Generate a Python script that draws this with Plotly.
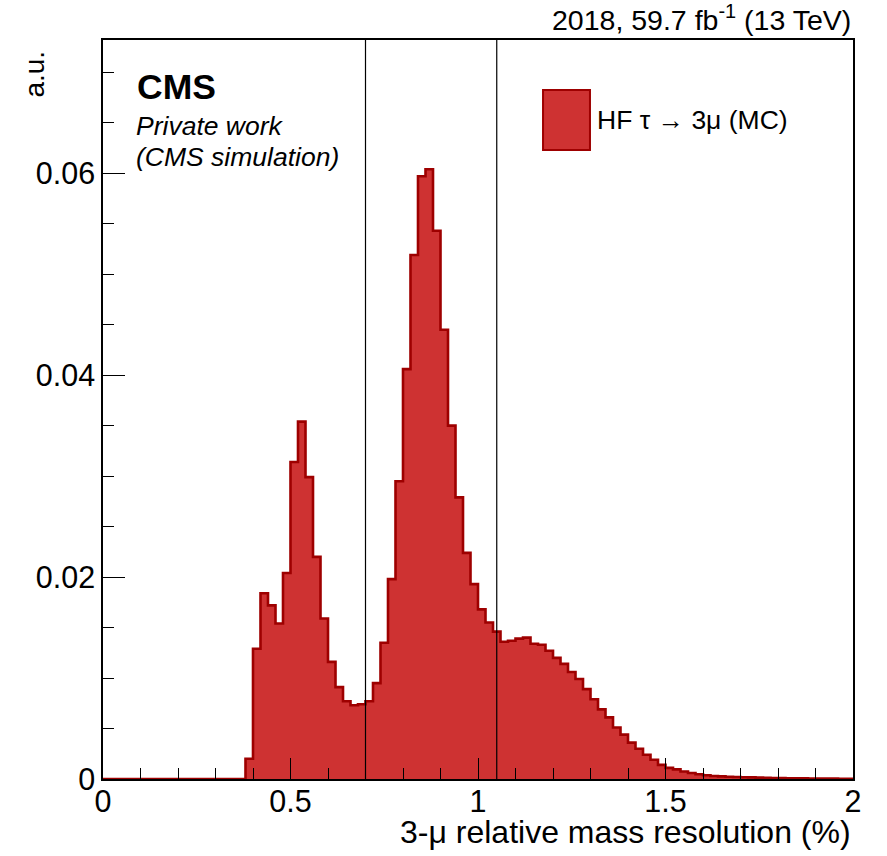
import numpy as np
import plotly.graph_objects as go

# ---- data ----
bin_width = 0.02
bin_edges = np.round(np.arange(0, 2.0 + 1e-9, bin_width), 2).tolist()
values = [
    0, 0, 0, 0, 0, 0, 0, 0, 0, 0,
    0, 0, 0, 0, 0, 0, 0, 0, 0,
    0.0020,  # 0.38
    0.0129, 0.0184, 0.0172, 0.0154, 0.0204, 0.0314, 0.0354, 0.0299, 0.0220, 0.0159,  # 0.40-0.58
    0.0116, 0.0091, 0.0077, 0.0073, 0.0074, 0.0077, 0.0095, 0.0135, 0.0198, 0.0295,  # 0.60-0.78
    0.0406, 0.0519, 0.0597, 0.0604, 0.0543, 0.0445, 0.0350, 0.0279, 0.0224, 0.0193,  # 0.80-0.98
    0.0168, 0.0155, 0.0146, 0.0136, 0.0137, 0.0139, 0.0140, 0.0134, 0.0133, 0.0127,  # 1.00-1.18
    0.0120, 0.0114, 0.0106, 0.0099, 0.0089, 0.0079, 0.0069, 0.0061, 0.0051, 0.0044,  # 1.20-1.38
    0.0036, 0.0030, 0.0024, 0.0019, 0.0014, 0.0011, 0.00095, 0.00075, 0.0006, 0.00047,  # 1.40-1.58
    0.00037, 0.0003, 0.00026, 0.00022, 0.0002, 0.00018, 0.00016, 0.00014, 0.00012, 0.0001,  # 1.60-1.78
    0.00009, 0.00008, 0.00007, 0.00006, 0.00005, 0.00005, 0.00004, 0.00004, 0.00003, 0.00003,  # 1.80-1.98
]
cut_lines = [0.7, 1.05]
legend_label = "HF τ → 3μ (MC)"
x_title = "3-μ relative mass resolution (%)"
y_title = "a.u."
lumi_text = "2018, 59.7 fb<sup>-1</sup> (13 TeV)"

fill_color = "rgb(206,50,50)"
line_color = "rgb(158,0,0)"
font_family = "Liberation Sans, Arial, Helvetica, sans-serif"

centers = [round(e + bin_width / 2, 3) for e in bin_edges[:-1]]
step_x = bin_edges
step_y = values + [values[-1]]

fig = go.Figure()
fig.add_trace(go.Bar(
    x=centers, y=values, width=bin_width,
    marker=dict(color=fill_color, line=dict(width=0)),
    name=legend_label, showlegend=False, hoverinfo="skip",
))
fig.add_trace(go.Scatter(
    x=step_x, y=step_y, mode="lines", line=dict(shape="hv", color=line_color, width=2.6),
    showlegend=False, hoverinfo="skip",
))

for xc in cut_lines:
    fig.add_shape(type="line", xref="x", yref="paper", x0=xc, x1=xc, y0=0, y1=1,
                  line=dict(color="black", width=1.2))

# legend box (ROOT-style)
fig.add_shape(type="rect", xref="paper", yref="paper",
              x0=0.5867, x1=0.6493, y0=0.8512, y1=0.9323,
              fillcolor=fill_color, line=dict(color=line_color, width=2))
fig.add_annotation(xref="paper", yref="paper", x=0.656, y=0.8917, text=legend_label,
                   showarrow=False, xanchor="left", yanchor="middle",
                   font=dict(family=font_family, size=26.5, color="black"))

# CMS labels
fig.add_annotation(xref="paper", yref="paper", x=0.043, y=0.936, text="<b>CMS</b>",
                   showarrow=False, xanchor="left", yanchor="middle",
                   font=dict(family=font_family, size=35.5, color="black"))
fig.add_annotation(xref="paper", yref="paper", x=0.041, y=0.8836, text="<i>Private work</i>",
                   showarrow=False, xanchor="left", yanchor="middle",
                   font=dict(family=font_family, size=26.5, color="black"))
fig.add_annotation(xref="paper", yref="paper", x=0.041, y=0.8417, text="<i>(CMS simulation)</i>",
                   showarrow=False, xanchor="left", yanchor="middle",
                   font=dict(family=font_family, size=26.5, color="black"))

# lumi text
fig.add_annotation(xref="paper", yref="paper", x=1.0, y=1.0, yshift=2, text=lumi_text,
                   showarrow=False, xanchor="right", yanchor="bottom",
                   font=dict(family=font_family, size=28.5, color="black"))

# axis titles
fig.add_annotation(xref="paper", yref="paper", x=1.0, y=-0.0715, text=x_title,
                   showarrow=False, xanchor="right", yanchor="middle",
                   font=dict(family=font_family, size=32, color="black"))
fig.add_annotation(xref="paper", yref="paper", x=-0.0907, y=0.989, text=y_title,
                   showarrow=False, xanchor="center", yanchor="top", textangle=-90,
                   font=dict(family=font_family, size=28, color="black"))

fig.update_layout(
    width=887, height=856,
    margin=dict(l=103, r=34, t=40, b=77),
    paper_bgcolor="white", plot_bgcolor="white",
    bargap=0, showlegend=False,
    font=dict(family=font_family, size=29, color="black"),
)
fig.update_xaxes(
    range=[0, 2], tickmode="array", tickvals=[0, 0.5, 1, 1.5, 2],
    ticktext=["0", "0.5", "1", "1.5", "2"],
    ticks="inside", ticklen=21, tickwidth=1.2, tickcolor="black",
    minor=dict(tickmode="linear", tick0=0, dtick=0.1, ticks="inside", ticklen=11,
               tickwidth=1.2, tickcolor="black", showgrid=False),
    showline=True, linecolor="black", linewidth=1.5, mirror=True,
    showgrid=False, zeroline=False, tickfont=dict(size=30.5),
    ticklabelstandoff=-5,
)
fig.update_yaxes(
    range=[0, 0.0732], tickmode="array", tickvals=[0, 0.02, 0.04, 0.06],
    ticktext=["0", "0.02", "0.04", "0.06"],
    ticks="inside", ticklen=22, tickwidth=1.2, tickcolor="black",
    minor=dict(tickmode="linear", tick0=0, dtick=0.005, ticks="inside", ticklen=11,
               tickwidth=1.2, tickcolor="black", showgrid=False),
    showline=True, linecolor="black", linewidth=1.5, mirror=True,
    showgrid=False, zeroline=False, tickfont=dict(size=30.5),
)

fig.write_html("out.html")
